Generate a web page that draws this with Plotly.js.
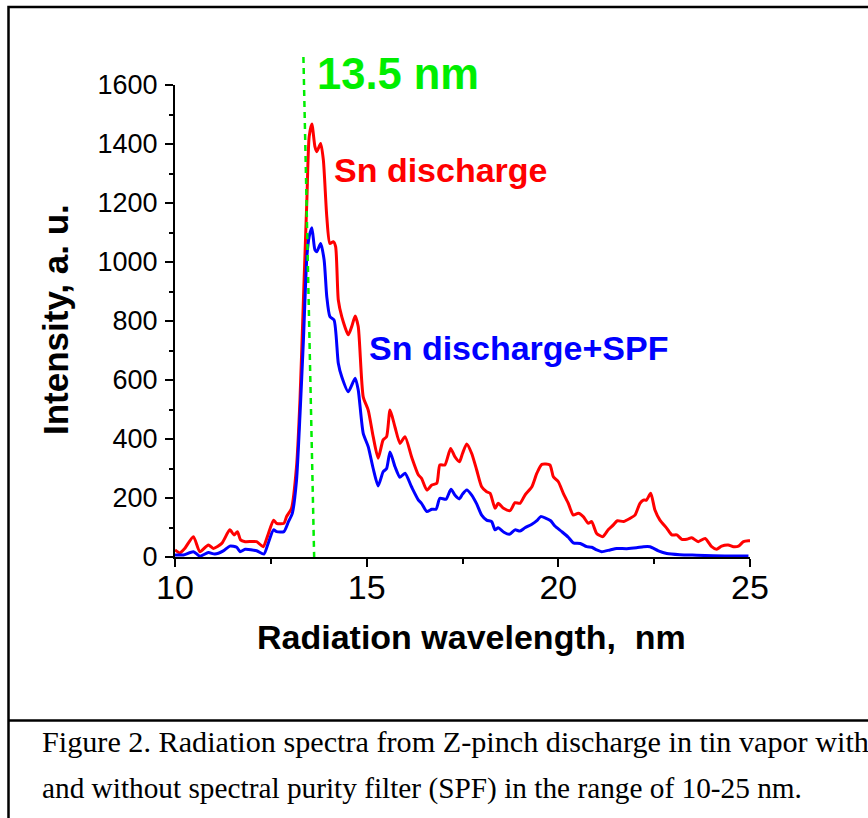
<!DOCTYPE html>
<html>
<head>
<meta charset="utf-8">
<script src="https://cdn.plot.ly/plotly-3.0.1.min.js"></script>
<style>
  html, body { margin: 0; padding: 0; background: #ffffff; }
  #chart { width: 868px; height: 818px; }
</style>
</head>
<body>
<div id="chart"></div>
<script>
// Sn discharge (red)
const redWavelength = [10.0,10.13,10.26,10.48,10.65,10.87,11.0,11.22,11.43,11.54,11.63,11.71,11.83,12.13,12.3,12.41,12.57,12.65,12.84,12.91,13.04,13.17,13.26,13.35,13.44,13.5,13.57,13.65,13.7,13.8,13.87,13.96,14.04,14.13,14.19,14.26,14.35,14.52,14.61,14.7,14.78,14.91,15.04,15.17,15.3,15.43,15.52,15.61,15.74,15.87,16.0,16.17,16.35,16.43,16.57,16.7,16.83,16.91,17.04,17.19,17.3,17.42,17.5,17.61,17.74,17.87,18.0,18.13,18.22,18.35,18.43,18.57,18.74,18.87,19.0,19.13,19.31,19.44,19.57,19.78,19.87,20.0,20.13,20.26,20.39,20.52,20.65,20.78,20.87,21.0,21.16,21.3,21.43,21.54,21.7,21.87,22.0,22.13,22.22,22.3,22.41,22.52,22.65,22.83,22.96,23.09,23.22,23.35,23.48,23.65,23.83,24.0,24.13,24.26,24.43,24.57,24.7,24.83,24.96,25.0];
const redIntensity = [24,14,30,69,18,41,29,46,92,75,86,58,52,52,35,69,125,114,114,137,165,306,532,871,1210,1425,1468,1391,1374,1402,1346,1153,1063,1069,1052,871,815,753,781,817,781,543,498,408,335,397,408,498,440,385,408,340,278,267,227,244,250,312,312,368,340,323,351,383,351,295,238,221,216,165,182,165,157,184,182,210,238,284,314,312,272,255,216,182,142,148,137,114,120,80,69,92,108,123,120,131,142,182,193,193,216,159,125,97,75,75,60,60,65,52,63,35,26,37,41,35,37,52,55,55];

// Sn discharge + SPF (blue)
const blueWavelength = [10.0,10.22,10.48,10.65,10.87,11.04,11.26,11.43,11.61,11.7,11.83,12.13,12.32,12.43,12.57,12.65,12.84,12.96,13.06,13.17,13.26,13.35,13.44,13.5,13.57,13.65,13.7,13.8,13.89,13.96,14.04,14.15,14.26,14.35,14.52,14.7,14.78,14.91,15.04,15.17,15.3,15.43,15.52,15.61,15.74,15.87,16.0,16.17,16.35,16.43,16.57,16.7,16.81,16.91,17.07,17.2,17.3,17.42,17.5,17.61,17.74,17.87,18.0,18.13,18.26,18.35,18.43,18.58,18.72,18.87,19.0,19.13,19.31,19.44,19.54,19.68,19.8,19.91,20.09,20.26,20.39,20.57,20.74,20.87,21.0,21.13,21.35,21.52,21.78,22.04,22.22,22.39,22.61,22.83,23.17,23.61,24.04,24.96];
const blueIntensity = [7,7,18,3,15,10,21,37,33,18,26,21,10,46,92,86,86,120,148,260,480,735,1018,1086,1116,1041,1035,1063,1007,882,815,803,657,611,560,606,566,419,374,300,241,289,300,356,306,270,284,238,193,182,154,162,162,199,196,230,210,197,213,227,210,180,142,125,120,92,99,84,77,92,88,99,111,123,137,131,123,105,86,67,48,46,35,33,24,18,24,29,28,31,35,35,21,12,8,6,4,3];

const xTickVals = [10, 15, 20, 25];
const yTickVals = [0, 200, 400, 600, 800, 1000, 1200, 1400, 1600];
const markerLine = [13.35, 13.63];

const labels = {
  marker: "13.5 nm",
  red: "Sn discharge",
  blue: "Sn discharge+SPF",
  xTitle: "Radiation wavelength,&nbsp; nm",
  yTitle: "Intensity, a. u.",
  caption1: "Figure 2. Radiation spectra from Z-pinch discharge in tin vapor with",
  caption2: "and without spectral purity filter (SPF) in the range of 10-25 nm."
};

// plot area in pixels: x 175..750, y 85..557
const L = 175, R = 750, T = 85, B = 557, W = 868, H = 818;
const px = v => (v - L) / (R - L);
const py = v => (B - v) / (B - T);

const sans = "Liberation Sans, Arial, sans-serif";
const serif = "Liberation Serif, Times New Roman, serif";

const traces = [
  { x: redWavelength, y: redIntensity, type: "scatter", mode: "lines",
    line: { color: "#ff0000", width: 3, shape: "spline", smoothing: 0.6 }, hoverinfo: "skip" },
  { x: blueWavelength, y: blueIntensity, type: "scatter", mode: "lines",
    line: { color: "#0000ff", width: 3, shape: "spline", smoothing: 0.6 }, hoverinfo: "skip" }
];

const layout = {
  width: W, height: H,
  margin: { l: L, r: W - R, t: T, b: H - B, pad: 0 },
  paper_bgcolor: "#ffffff", plot_bgcolor: "#ffffff",
  showlegend: false,
  xaxis: {
    range: [10, 25], tickvals: xTickVals, ticktext: xTickVals.map(String),
    showgrid: false, zeroline: false, showline: true, linecolor: "#000", linewidth: 2,
    ticks: "outside", ticklen: 8, tickwidth: 2, tickcolor: "#000",
    minor: { dtick: 2.5, tick0: 10, ticks: "outside", ticklen: 5, tickwidth: 2, tickcolor: "#000", showgrid: false },
    tickfont: { family: sans, size: 34, color: "#000" }, ticklabelstandoff: -9
  },
  yaxis: {
    range: [0, 1600], tickvals: yTickVals, ticktext: yTickVals.map(String),
    showgrid: false, zeroline: false, showline: true, linecolor: "#000", linewidth: 2,
    ticks: "outside", ticklen: 8, tickwidth: 2, tickcolor: "#000",
    minor: { dtick: 100, tick0: 0, ticks: "outside", ticklen: 4, tickwidth: 2, tickcolor: "#000", showgrid: false },
    tickfont: { family: sans, size: 27, color: "#000" }, ticklabelstandoff: 2
  },
  shapes: [
    { type: "line", xref: "x", yref: "paper", x0: markerLine[0], y0: py(57), x1: markerLine[1], y1: 0,
      line: { color: "#00ee00", width: 2.5, dash: "6px,5px" } },
    { type: "rect", xref: "paper", yref: "paper", x0: px(8.5), y0: py(840), x1: px(900), y1: py(7),
      line: { color: "#000", width: 2.5 }, fillcolor: "rgba(0,0,0,0)" },
    { type: "line", xref: "paper", yref: "paper", x0: px(8.5), y0: py(720.5), x1: px(900), y1: py(720.5),
      line: { color: "#000", width: 2.5 } }
  ],
  annotations: [
    { text: "<b>" + labels.marker + "</b>", xref: "paper", yref: "paper", x: px(315), y: py(74),
      xanchor: "left", yanchor: "middle", showarrow: false, font: { family: sans, size: 43.5, color: "#00ee00" } },
    { text: "<b>" + labels.red + "</b>", xref: "paper", yref: "paper", x: px(332), y: py(170),
      xanchor: "left", yanchor: "middle", showarrow: false, font: { family: sans, size: 34, color: "#ff0000" } },
    { text: "<b>" + labels.blue + "</b>", xref: "paper", yref: "paper", x: px(367), y: py(348),
      xanchor: "left", yanchor: "middle", showarrow: false, font: { family: sans, size: 34, color: "#0000ff" } },
    { text: "<b>" + labels.xTitle + "</b>", xref: "paper", yref: "paper", x: px(471), y: py(637),
      xanchor: "center", yanchor: "middle", showarrow: false, font: { family: sans, size: 34, color: "#000" } },
    { text: "<b>" + labels.yTitle + "</b>", xref: "paper", yref: "paper", x: px(55), y: py(320),
      xanchor: "center", yanchor: "middle", textangle: -90, showarrow: false, font: { family: sans, size: 35, color: "#000" } },
    { text: labels.caption1, xref: "paper", yref: "paper", x: px(40), y: py(742),
      xanchor: "left", yanchor: "middle", showarrow: false, font: { family: serif, size: 30.2, color: "#000" } },
    { text: labels.caption2, xref: "paper", yref: "paper", x: px(40), y: py(788),
      xanchor: "left", yanchor: "middle", showarrow: false, font: { family: serif, size: 29.3, color: "#000" } }
  ]
};

Plotly.newPlot("chart", traces, layout, { staticPlot: true, displayModeBar: false });
</script>
</body>
</html>
